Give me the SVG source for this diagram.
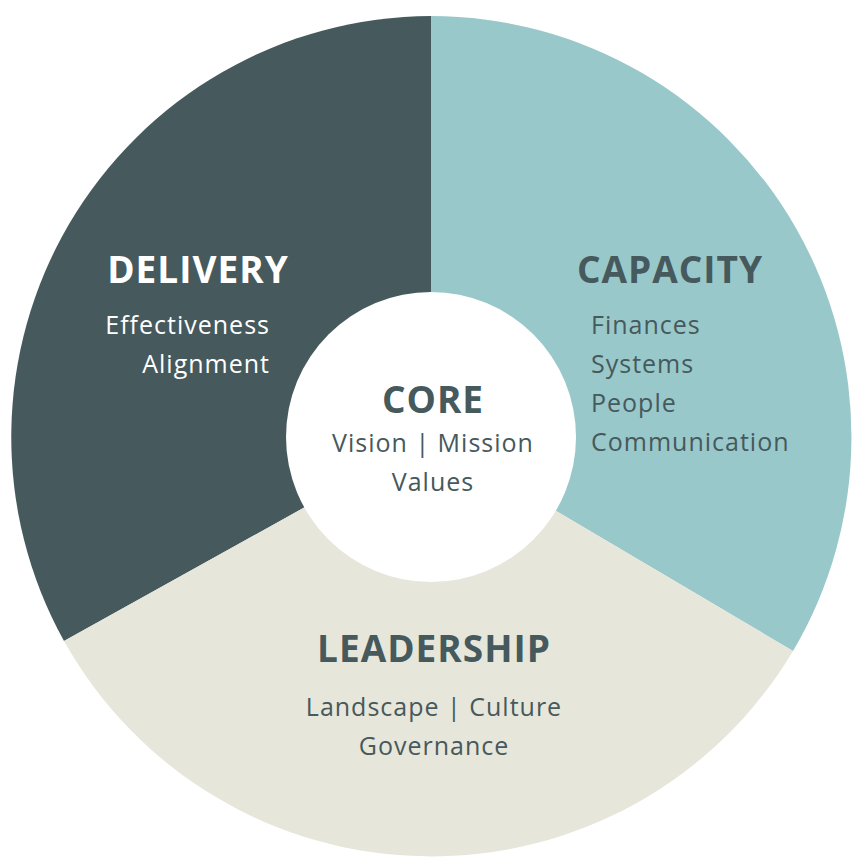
<svg xmlns="http://www.w3.org/2000/svg" width="866" height="866" viewBox="0 0 866 866">
<style>
.t{font-family:"Open Sans","Liberation Sans",sans-serif;font-weight:700;font-size:37px;letter-spacing:1px}
.s{font-family:"Open Sans","Liberation Sans",sans-serif;font-size:25px;letter-spacing:1px}
.d{fill:#46595C}.w{fill:#FFFFFF}
</style>
<rect width="866" height="866" fill="#FFFFFF"/>
<g id="delivery">
<path d="M431,437 L431,16 A421,421 0 0,0 64,641 Z" fill="#46595C"/>
<text class="t w" x="198" y="283" text-anchor="middle">DELIVERY</text>
<text class="s w" x="270" y="334" text-anchor="end">Effectiveness</text>
<text class="s w" x="270" y="373" text-anchor="end">Alignment</text>
</g>
<g id="capacity">
<path d="M431,437 L431,16 A421,421 0 0,1 793,651 Z" fill="#99C8CA"/>
<text class="t d" x="670" y="283" text-anchor="middle">CAPACITY</text>
<text class="s d" x="591" y="334">Finances</text>
<text class="s d" x="591" y="373">Systems</text>
<text class="s d" x="591" y="412">People</text>
<text class="s d" x="591" y="451">Communication</text>
</g>
<g id="leadership">
<path d="M431,437 L64,641 A421,421 0 0,0 793,651 Z" fill="#E6E6DA"/>
<text class="t d" x="434" y="662" text-anchor="middle">LEADERSHIP</text>
<text class="s d" x="434" y="716" text-anchor="middle">Landscape | Culture</text>
<text class="s d" x="434" y="755" text-anchor="middle">Governance</text>
</g>
<g id="core">
<circle cx="431" cy="437" r="145" fill="#FFFFFF"/>
<text class="t d" x="433" y="413" text-anchor="middle">CORE</text>
<text class="s d" x="433" y="452" text-anchor="middle">Vision | Mission</text>
<text class="s d" x="433" y="491" text-anchor="middle">Values</text>
</g>
<g id="connectors"></g>
</svg>
